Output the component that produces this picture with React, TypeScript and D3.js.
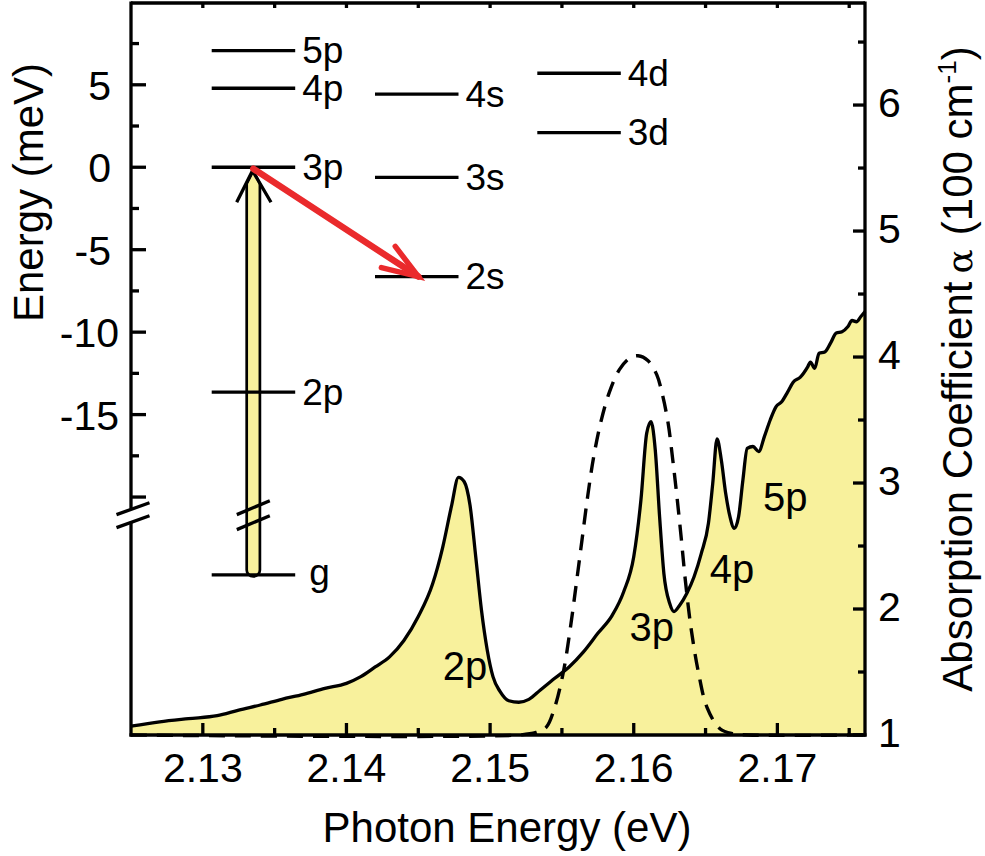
import React from 'react';
import * as d3 from 'd3';

// Absorption spectrum (solid, filled)
const photonEnergy = [
  2.125, 2.127, 2.129, 2.131, 2.1325, 2.134, 2.1355, 2.137, 2.1385, 2.14, 2.141, 2.142, 2.143, 2.144, 2.145,
  2.146, 2.1467, 2.1473, 2.1478, 2.1482, 2.1486, 2.149, 2.1494, 2.1498, 2.1502, 2.1507, 2.1513, 2.152, 2.1527,
  2.1535, 2.1545, 2.1555, 2.1565, 2.1575, 2.1585, 2.1593, 2.16, 2.1605, 2.1609, 2.1612, 2.1615, 2.1618, 2.1621,
  2.1625, 2.1628, 2.1632, 2.1637, 2.1642, 2.1647, 2.1652, 2.1655, 2.1658, 2.1661, 2.1664, 2.1667, 2.167, 2.1673,
  2.1676, 2.1679, 2.1683, 2.1687, 2.1691, 2.1695, 2.1699, 2.1703, 2.1707, 2.1711, 2.1716, 2.1721, 2.1723, 2.1726,
  2.1729, 2.1733, 2.1737, 2.1741, 2.1745, 2.1749, 2.1752, 2.1755, 2.1758, 2.1761,
];
const absorption = [
  1.07, 1.105, 1.13, 1.153, 1.198, 1.238, 1.283, 1.323, 1.37, 1.41, 1.463, 1.54, 1.62, 1.75, 1.94,
  2.2, 2.49, 2.81, 3.045, 3.01, 2.825, 2.415, 1.99, 1.675, 1.463, 1.344, 1.272, 1.26, 1.283,
  1.357, 1.45, 1.54, 1.66, 1.807, 1.95, 2.137, 2.415, 2.865, 3.394, 3.487, 3.26, 2.733, 2.28,
  2.045, 1.98, 2.03, 2.125, 2.256, 2.44, 2.68, 2.997, 3.35, 3.18, 2.918, 2.733, 2.64, 2.733,
  3.024, 3.275, 3.29, 3.25, 3.37, 3.5, 3.605, 3.645, 3.72, 3.8, 3.84, 3.92, 3.96, 3.91,
  4.03, 4.04, 4.11, 4.19, 4.2, 4.24, 4.29, 4.28, 4.32, 4.36,
];

// Laser spectrum (dashed)
const laserEnergy = [
  2.125, 2.152, 2.1532, 2.1539, 2.1545, 2.1551, 2.1556, 2.156, 2.1564, 2.1568, 2.1572, 2.1577, 2.1583, 2.159,
  2.1597, 2.1603, 2.161, 2.1616, 2.162, 2.1624, 2.1627, 2.163, 2.1633, 2.1636, 2.164, 2.1645, 2.1651,
  2.166, 2.1669, 2.168, 2.1761,
];
const laserIntensity = [
  1.0, 1.0, 1.02, 1.06, 1.22, 1.5, 1.86, 2.2, 2.55, 2.9, 3.2, 3.48, 3.72, 3.9,
  3.99, 4.01, 3.97, 3.86, 3.7, 3.47, 3.2, 2.9, 2.57, 2.22, 1.84, 1.5, 1.22,
  1.05, 1.01, 1.0, 1.0,
];

// Axis ticks
const xMajorTicks = [2.13, 2.14, 2.15, 2.16, 2.17];
const xTickLabels = ['2.13', '2.14', '2.15', '2.16', '2.17'];
const xMinorTicks = [2.135, 2.145, 2.155, 2.165, 2.175];
const xTopTicks = [2.13, 2.135, 2.14, 2.145, 2.15, 2.155, 2.16, 2.165, 2.17, 2.175];
const rightMajorTicks = [1, 2, 3, 4, 5, 6];
const rightMinorTicks = [1.5, 2.5, 3.5, 4.5, 5.5, 6.5];
const leftMajorTicks = [5, 0, -5, -10, -15, -20];
const leftTickLabels = ['5', '0', '-5', '-10', '-15', ''];
const leftMinorTicks = [7.5, 2.5, -2.5, -7.5, -12.5, -17.5];

// Energy-level diagram (meV, relative to 3p)
const levelNames = ['5p', '4p', '3p', '2p', 'g', '4s', '3s', '2s', '4d', '3d'];
const levelEnergies = [7.07, 4.79, 0, -13.64, -24.72, 4.43, -0.61, -6.63, 5.7, 2.1];
const levelColumns = [0, 0, 0, 0, 0, 1, 1, 1, 2, 2];
const breakEnergy = -21.1;

// Peak labels on the spectrum
const peakLabels = ['2p', '3p', '4p', '5p'];
const peakLabelE = [2.1467, 2.1597, 2.1653, 2.169];
const peakLabelA = [1.44, 1.75, 2.21, 2.78];

const FONT = '"Liberation Sans", Arial, Helvetica, sans-serif';
const YELLOW = '#F8F19C';
const RED = '#EA2A2C';
const SW = 3.3;

export default function App() {
  const W = 985, H = 856;
  const L = 131, R = 865, T = 3, B = 735;

  const x = d3.scaleLinear().domain([2.125, 2.1761]).range([L, R]);
  const yR = d3.scaleLinear().domain([1, 6.81]).range([B, T]);
  const yL = d3.scaleLinear().domain([-34.43, 9.96]).range([B, T]);

  const absData = photonEnergy.map((e, i) => [e, absorption[i]] as [number, number]);
  const laserData = laserEnergy.map((e, i) => [e, laserIntensity[i]] as [number, number]);

  const area = d3.area<[number, number]>()
    .x(d => x(d[0])).y0(yR(1)).y1(d => yR(d[1]))
    .curve(d3.curveMonotoneX);
  const line = d3.line<[number, number]>()
    .x(d => x(d[0])).y(d => yR(d[1]))
    .curve(d3.curveMonotoneX);
  const laserLine = d3.line<[number, number]>()
    .x(d => x(d[0])).y(d => yR(d[1]))
    .curve(d3.curveCatmullRom.alpha(0.5));

  // diagram layout
  const colX = [211.7, 375, 537.3];
  const colW = 83.5;
  const barCx = colX[0] + 41.6;
  const barHalf = 6.6;
  const yTop = yL(0) + 3.5;
  const yG = yL(levelEnergies[4]);
  const yBreak = yL(breakEnergy);

  const barPath = `M ${barCx - barHalf} ${yG - 5} L ${barCx - barHalf} ${yTop + 13} L ${barCx} ${yTop} L ${barCx + barHalf} ${yTop + 13} L ${barCx + barHalf} ${yG - 5} A ${barHalf} ${barHalf} 0 0 1 ${barCx - barHalf} ${yG - 5} Z`;

  // red arrow from 3p to 2s
  const ax0 = barCx, ay0 = yL(0) + 1.5;
  const ax1 = colX[1] + 43.3, ay1 = yL(-6.63);
  const ang = Math.atan2(ay1 - ay0, ax1 - ax0);
  const headLen = 38, headAng = 0.34;
  const h1 = [ax1 - headLen * Math.cos(ang - headAng), ay1 - headLen * Math.sin(ang - headAng)];
  const h2 = [ax1 - headLen * Math.cos(ang + headAng), ay1 - headLen * Math.sin(ang + headAng)];

  const slash = (cx: number, cy: number, half: number, slope: number) =>
    `M ${cx - half} ${cy + half * slope} L ${cx + half} ${cy - half * slope}`;

  return (
    <svg width={W} height={H} style={{ position: 'absolute', left: 0, top: 0, background: '#fff' }}
      fontFamily={FONT}>
      {/* Filled absorption */}
      <path d={area(absData) || ''} fill={YELLOW} stroke="none" />
      {/* Laser (dashed) */}
      <path d={laserLine(laserData) || ''} fill="none" stroke="#000" strokeWidth={3.4} strokeDasharray="16 10" />
      {/* Absorption curve */}
      <path d={line(absData) || ''} fill="none" stroke="#000" strokeWidth={SW} strokeLinejoin="round" />

      {/* Peak labels */}
      {peakLabels.map((t, i) => (
        <text key={t} x={x(peakLabelE[i])} y={yR(peakLabelA[i])} fontSize={40} fill="#000">{t}</text>
      ))}

      {/* Frame: top, right, bottom */}
      <line x1={L} y1={T} x2={R} y2={T} stroke="#000" strokeWidth={SW} />
      <line x1={R} y1={T - 1.5} x2={R} y2={B + 1.5} stroke="#000" strokeWidth={SW} />
      <line x1={L - 1.5} y1={B} x2={R + 1.5} y2={B} stroke="#000" strokeWidth={SW} />
      {/* Left axis with break */}
      <line x1={L} y1={T - 1.5} x2={L} y2={yBreak - 6.5} stroke="#000" strokeWidth={SW} />
      <line x1={L} y1={yBreak + 6.5} x2={L} y2={B + 1.5} stroke="#000" strokeWidth={SW} />
      <path d={slash(L + 2, yBreak - 6.5, 16.5, 0.36)} stroke="#000" strokeWidth={SW} />
      <path d={slash(L + 2, yBreak + 6.5, 16.5, 0.36)} stroke="#000" strokeWidth={SW} />

      {/* Bottom ticks */}
      {xMajorTicks.map((v, i) => (
        <g key={'xm' + v}>
          <line x1={x(v)} y1={B} x2={x(v)} y2={B - 12} stroke="#000" strokeWidth={SW} />
          <text x={x(v)} y={782} fontSize={41} textAnchor="middle">{xTickLabels[i]}</text>
        </g>
      ))}
      {xMinorTicks.map(v => (
        <line key={'xn' + v} x1={x(v)} y1={B} x2={x(v)} y2={B - 7} stroke="#000" strokeWidth={SW} />
      ))}
      {xTopTicks.map(v => (
        <line key={'xt' + v} x1={x(v)} y1={T} x2={x(v)} y2={T + 5} stroke="#000" strokeWidth={SW} />
      ))}

      {/* Right ticks */}
      {rightMajorTicks.map(v => (
        <g key={'rm' + v}>
          <line x1={R} y1={yR(v)} x2={R - 12} y2={yR(v)} stroke="#000" strokeWidth={SW} />
          <text x={878} y={yR(v) + 12} fontSize={41}>{v}</text>
        </g>
      ))}
      {rightMinorTicks.map(v => (
        <line key={'rn' + v} x1={R} y1={yR(v)} x2={R - 7} y2={yR(v)} stroke="#000" strokeWidth={SW} />
      ))}

      {/* Left ticks */}
      {leftMajorTicks.map((v, i) => (
        <g key={'lm' + v}>
          <line x1={L} y1={yL(v)} x2={L + 15} y2={yL(v)} stroke="#000" strokeWidth={SW} />
          <text x={leftTickLabels[i].length >= 3 ? 119 : 111} y={yL(v) + 15} fontSize={41} textAnchor="end">{leftTickLabels[i]}</text>
        </g>
      ))}
      {leftMinorTicks.map(v => (
        <line key={'ln' + v} x1={L} y1={yL(v)} x2={L + 8} y2={yL(v)} stroke="#000" strokeWidth={SW} />
      ))}

      {/* Excitation bar */}
      <path d={barPath} fill={YELLOW} stroke="#000" strokeWidth={2.7} strokeLinejoin="round" />
      <path d={slash(barCx, yBreak - 7.5, 16.5, 0.42)} stroke="#000" strokeWidth={SW} />
      <path d={slash(barCx, yBreak + 7.5, 16.5, 0.42)} stroke="#000" strokeWidth={SW} />
      <path d={`M ${barCx - 16.6} ${yTop + 31.5} L ${barCx - 0.8} ${yTop} L ${barCx + 17.7} ${yTop + 31.5}`}
        fill="none" stroke="#000" strokeWidth={SW} />

      {/* Levels */}
      {levelNames.map((n, i) => {
        const c = levelColumns[i];
        const yy = yL(levelEnergies[i]);
        return (
          <g key={n}>
            <line x1={colX[c]} y1={yy} x2={colX[c] + colW} y2={yy} stroke="#000" strokeWidth={SW} />
            <text x={colX[c] + colW + (n === 'g' ? 14 : 7)} y={yy + (n === 'g' ? 10 : 12.5)} fontSize={37}>{n}</text>
          </g>
        );
      })}

      {/* Red relaxation arrow */}
      <line x1={ax0} y1={ay0} x2={ax1} y2={ay1} stroke={RED} strokeWidth={6.5} strokeLinecap="round" />
      <path d={`M ${h1[0]} ${h1[1]} L ${ax1} ${ay1} L ${h2[0]} ${h2[1]}`} fill="none" stroke={RED}
        strokeWidth={5.5} strokeLinecap="round" strokeLinejoin="miter" />

      {/* Axis titles */}
      <text x={507} y={842} fontSize={42} textAnchor="middle">Photon Energy (eV)</text>
      <text transform="translate(43.3,192.5) rotate(-90)" fontSize={42} textAnchor="middle">Energy (meV)</text>
      <text transform="translate(971.7,369) rotate(-90)" fontSize={42} textAnchor="middle">
        Absorption Coefficient<tspan fontFamily='"DejaVu Serif", serif' fontSize={36} dx={8}>α</tspan>
        <tspan dx={14}>(100 cm</tspan>
        <tspan fontSize={26} dy={-16}>-1</tspan>
        <tspan dy={16}>)</tspan>
      </text>
    </svg>
  );
}
